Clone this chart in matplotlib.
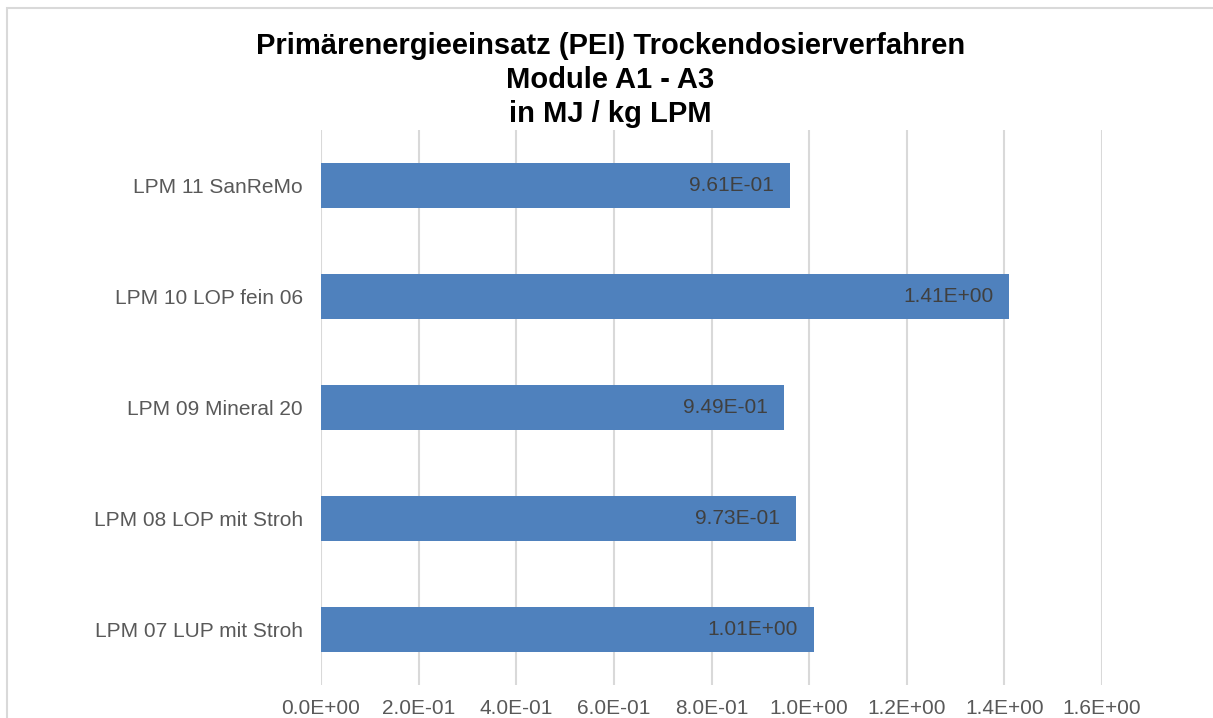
import matplotlib
matplotlib.use("Agg")
import matplotlib.pyplot as plt
from matplotlib.patches import Rectangle
from matplotlib.ticker import FuncFormatter, MultipleLocator

# DATA
categories = ["LPM 07 LUP mit Stroh", "LPM 08 LOP mit Stroh", "LPM 09 Mineral 20",
              "LPM 10 LOP fein 06", "LPM 11 SanReMo"]
pei_values = [1.01, 0.973, 0.949, 1.41, 0.961]
title_lines = ["Primärenergieeinsatz (PEI) Trockendosierverfahren",
               "Module A1 - A3",
               "in MJ / kg LPM"]

BAR_COLOR = "#4F81BD"
TEXT_GRAY = "#595959"
LABEL_GRAY = "#404040"
GRID_GRAY = "#D9D9D9"

plt.rcParams["font.family"] = ["Liberation Sans", "DejaVu Sans"]

W, H = 1213, 718
fig = plt.figure(figsize=(W / 100, H / 100), dpi=100)

# chart frame (cut off at right and bottom as in the reference)
fig.patches.append(Rectangle((7 / W, -0.05), 1.1, 1 - 8 / H + 0.05,
                             transform=fig.transFigure, fill=False,
                             edgecolor=GRID_GRAY, linewidth=1.5))

ax = fig.add_axes([321 / W, 1 - 685 / H, (1102 - 321) / W, (685 - 130) / H])

y_pos = range(len(categories))
bars = ax.barh(y_pos, pei_values, height=0.4, color=BAR_COLOR, zorder=3)

for bar, val in zip(bars, pei_values):
    ax.annotate(f"{val:.2E}", xy=(bar.get_width(), bar.get_y() + bar.get_height() / 2),
                xytext=(-16, 0), textcoords="offset pixels",
                ha="right", va="center", fontsize=15, color=LABEL_GRAY, zorder=4)

ax.set_xlim(0, 1.6)
ax.set_ylim(-0.5, len(categories) - 0.5)
ax.xaxis.set_major_locator(MultipleLocator(0.2))
ax.xaxis.set_major_formatter(FuncFormatter(lambda v, _: f"{v:.1E}"))
ax.set_yticks(list(y_pos))
ax.set_yticklabels(categories)

ax.grid(axis="x", color=GRID_GRAY, linewidth=1.5, zorder=0)
for side in ["top", "right", "bottom", "left"]:
    ax.spines[side].set_visible(False)
ax.tick_params(axis="both", length=0, labelsize=15, labelcolor=TEXT_GRAY)
ax.tick_params(axis="x", pad=10)
ax.tick_params(axis="y", pad=13)

fig.text(0.503, 1 - 80 / H, "\n".join(title_lines), ha="center", va="center",
         fontsize=21, fontweight="bold", color="black", linespacing=1.25)

fig.savefig("out.png", dpi=100)
